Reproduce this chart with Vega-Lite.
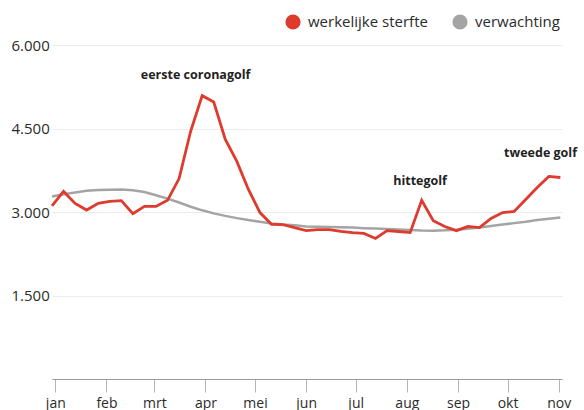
{
  "$schema": "https://vega.github.io/schema/vega-lite/v6.json",
  "autosize": "none",
  "width": 510,
  "height": 334,
  "padding": {"left": 52, "top": 45, "right": 22, "bottom": 31},
  "datasets": {
    "weken": [
      {"datum": "2019-12-30", "werkelijke sterfte": 3110, "verwachting": 3280},
      {"datum": "2020-01-06", "werkelijke sterfte": 3370, "verwachting": 3320},
      {"datum": "2020-01-13", "werkelijke sterfte": 3155, "verwachting": 3350},
      {"datum": "2020-01-20", "werkelijke sterfte": 3035, "verwachting": 3380},
      {"datum": "2020-01-27", "werkelijke sterfte": 3155, "verwachting": 3395},
      {"datum": "2020-02-03", "werkelijke sterfte": 3190, "verwachting": 3400},
      {"datum": "2020-02-10", "werkelijke sterfte": 3205, "verwachting": 3405},
      {"datum": "2020-02-17", "werkelijke sterfte": 2970, "verwachting": 3390},
      {"datum": "2020-02-24", "werkelijke sterfte": 3100, "verwachting": 3360},
      {"datum": "2020-03-02", "werkelijke sterfte": 3100, "verwachting": 3300},
      {"datum": "2020-03-09", "werkelijke sterfte": 3210, "verwachting": 3240},
      {"datum": "2020-03-16", "werkelijke sterfte": 3600, "verwachting": 3170},
      {"datum": "2020-03-23", "werkelijke sterfte": 4450, "verwachting": 3095},
      {"datum": "2020-03-30", "werkelijke sterfte": 5090, "verwachting": 3030},
      {"datum": "2020-04-06", "werkelijke sterfte": 4975, "verwachting": 2975},
      {"datum": "2020-04-13", "werkelijke sterfte": 4305, "verwachting": 2930},
      {"datum": "2020-04-20", "werkelijke sterfte": 3910, "verwachting": 2890},
      {"datum": "2020-04-27", "werkelijke sterfte": 3405, "verwachting": 2855},
      {"datum": "2020-05-04", "werkelijke sterfte": 2990, "verwachting": 2825},
      {"datum": "2020-05-11", "werkelijke sterfte": 2780, "verwachting": 2795},
      {"datum": "2020-05-18", "werkelijke sterfte": 2775, "verwachting": 2775},
      {"datum": "2020-05-25", "werkelijke sterfte": 2720, "verwachting": 2760},
      {"datum": "2020-06-01", "werkelijke sterfte": 2665, "verwachting": 2740},
      {"datum": "2020-06-08", "werkelijke sterfte": 2685, "verwachting": 2735},
      {"datum": "2020-06-15", "werkelijke sterfte": 2685, "verwachting": 2730},
      {"datum": "2020-06-22", "werkelijke sterfte": 2650, "verwachting": 2725},
      {"datum": "2020-06-29", "werkelijke sterfte": 2630, "verwachting": 2720},
      {"datum": "2020-07-06", "werkelijke sterfte": 2615, "verwachting": 2710},
      {"datum": "2020-07-13", "werkelijke sterfte": 2525, "verwachting": 2703},
      {"datum": "2020-07-20", "werkelijke sterfte": 2665, "verwachting": 2695},
      {"datum": "2020-07-27", "werkelijke sterfte": 2650, "verwachting": 2685},
      {"datum": "2020-08-03", "werkelijke sterfte": 2630, "verwachting": 2675},
      {"datum": "2020-08-10", "werkelijke sterfte": 3210, "verwachting": 2667},
      {"datum": "2020-08-17", "werkelijke sterfte": 2845, "verwachting": 2665},
      {"datum": "2020-08-24", "werkelijke sterfte": 2740, "verwachting": 2670},
      {"datum": "2020-08-31", "werkelijke sterfte": 2665, "verwachting": 2680},
      {"datum": "2020-09-07", "werkelijke sterfte": 2740, "verwachting": 2700},
      {"datum": "2020-09-14", "werkelijke sterfte": 2720, "verwachting": 2720},
      {"datum": "2020-09-21", "werkelijke sterfte": 2885, "verwachting": 2750},
      {"datum": "2020-09-28", "werkelijke sterfte": 2990, "verwachting": 2775},
      {"datum": "2020-10-05", "werkelijke sterfte": 3010, "verwachting": 2800},
      {"datum": "2020-10-12", "werkelijke sterfte": 3225, "verwachting": 2825},
      {"datum": "2020-10-19", "werkelijke sterfte": 3440, "verwachting": 2855},
      {"datum": "2020-10-26", "werkelijke sterfte": 3640, "verwachting": 2880},
      {"datum": "2020-11-02", "werkelijke sterfte": 3620, "verwachting": 2900}
    ],
    "notities": [
      {"datum": "2020-03-26", "sterfte": 5460, "tekst": "eerste coronagolf"},
      {"datum": "2020-08-09", "sterfte": 3560, "tekst": "hittegolf"},
      {"datum": "2020-10-21", "sterfte": 4060, "tekst": "tweede golf"}
    ]
  },
  "data": {"name": "weken"},
  "transform": [
    {"fold": ["verwachting", "werkelijke sterfte"], "as": ["reeks", "sterfte"]}
  ],
  "encoding": {
    "x": {
      "field": "datum",
      "type": "temporal",
      "title": null,
      "scale": {
        "type": "utc",
        "nice": false,
        "domain": [
          {"year": 2019, "month": 12, "date": 30, "utc": true},
          {"year": 2020, "month": 11, "date": 3, "utc": true}
        ]
      },
      "axis": {
        "values": [
          {"year": 2020, "month": 1, "date": 1, "utc": true},
          {"year": 2020, "month": 2, "date": 1, "utc": true},
          {"year": 2020, "month": 3, "date": 1, "utc": true},
          {"year": 2020, "month": 4, "date": 1, "utc": true},
          {"year": 2020, "month": 5, "date": 1, "utc": true},
          {"year": 2020, "month": 6, "date": 1, "utc": true},
          {"year": 2020, "month": 7, "date": 1, "utc": true},
          {"year": 2020, "month": 8, "date": 1, "utc": true},
          {"year": 2020, "month": 9, "date": 1, "utc": true},
          {"year": 2020, "month": 10, "date": 1, "utc": true},
          {"year": 2020, "month": 11, "date": 1, "utc": true}
        ],
        "labelExpr": "['jan','feb','mrt','apr','mei','jun','jul','aug','sep','okt','nov','dec'][utcmonth(datum.value)]",
        "grid": false,
        "domainColor": "#9a9a9a",
        "tickColor": "#b5b5b5",
        "tickSize": 13,
        "labelPadding": 4,
        "labelFontSize": 14,
        "labelColor": "#2b2b2b",
        "labelFont": "Open Sans"
      }
    },
    "y": {
      "field": "sterfte",
      "type": "quantitative",
      "title": null,
      "scale": {"domain": [0, 6000], "nice": false},
      "axis": {
        "values": [1500, 3000, 4500, 6000],
        "labelExpr": "replace(format(datum.value, ','), ',', '.')",
        "domain": false,
        "ticks": false,
        "tickSize": 0,
        "labelAlign": "left",
        "labelPadding": 41,
        "labelFontSize": 15,
        "labelColor": "#2b2b2b",
        "labelFont": "Open Sans",
        "gridColor": "#ececec",
        "gridWidth": 1
      }
    }
  },
  "layer": [
    {
      "transform": [{"filter": "datum.reeks === 'verwachting'"}],
      "mark": {"type": "line", "strokeWidth": 2.5},
      "encoding": {
        "color": {
          "field": "reeks",
          "type": "nominal",
          "scale": {
            "domain": ["werkelijke sterfte", "verwachting"],
            "range": ["#de3a2e", "#a4a4a4"]
          },
          "legend": {
            "title": null,
            "orient": "none",
            "direction": "horizontal",
            "legendX": 233,
            "legendY": -31,
            "padding": 0,
            "symbolType": "circle",
            "symbolSize": 230,
            "symbolStrokeWidth": 0,
            "symbolOpacity": 1,
            "labelFontSize": 15,
            "labelFont": "Open Sans",
            "labelColor": "#2b2b2b",
            "labelOffset": 7,
            "columnPadding": 24,
            "encode": {
              "symbols": {
                "update": {
                  "fill": {"scale": "color", "field": "value"},
                  "fillOpacity": {"value": 1},
                  "strokeWidth": {"value": 0}
                }
              }
            }
          }
        }
      }
    },
    {
      "transform": [{"filter": "datum.reeks === 'werkelijke sterfte'"}],
      "mark": {"type": "line", "strokeWidth": 2.8},
      "encoding": {
        "color": {"field": "reeks", "type": "nominal"}
      }
    },
    {
      "data": {"name": "notities"},
      "transform": [],
      "mark": {
        "type": "text",
        "font": "Open Sans",
        "fontSize": 12.5,
        "fontWeight": "bold",
        "color": "#222222",
        "align": "center",
        "baseline": "middle"
      },
      "encoding": {
        "text": {"field": "tekst"}
      }
    }
  ],
  "config": {
    "view": {"stroke": null}
  }
}
